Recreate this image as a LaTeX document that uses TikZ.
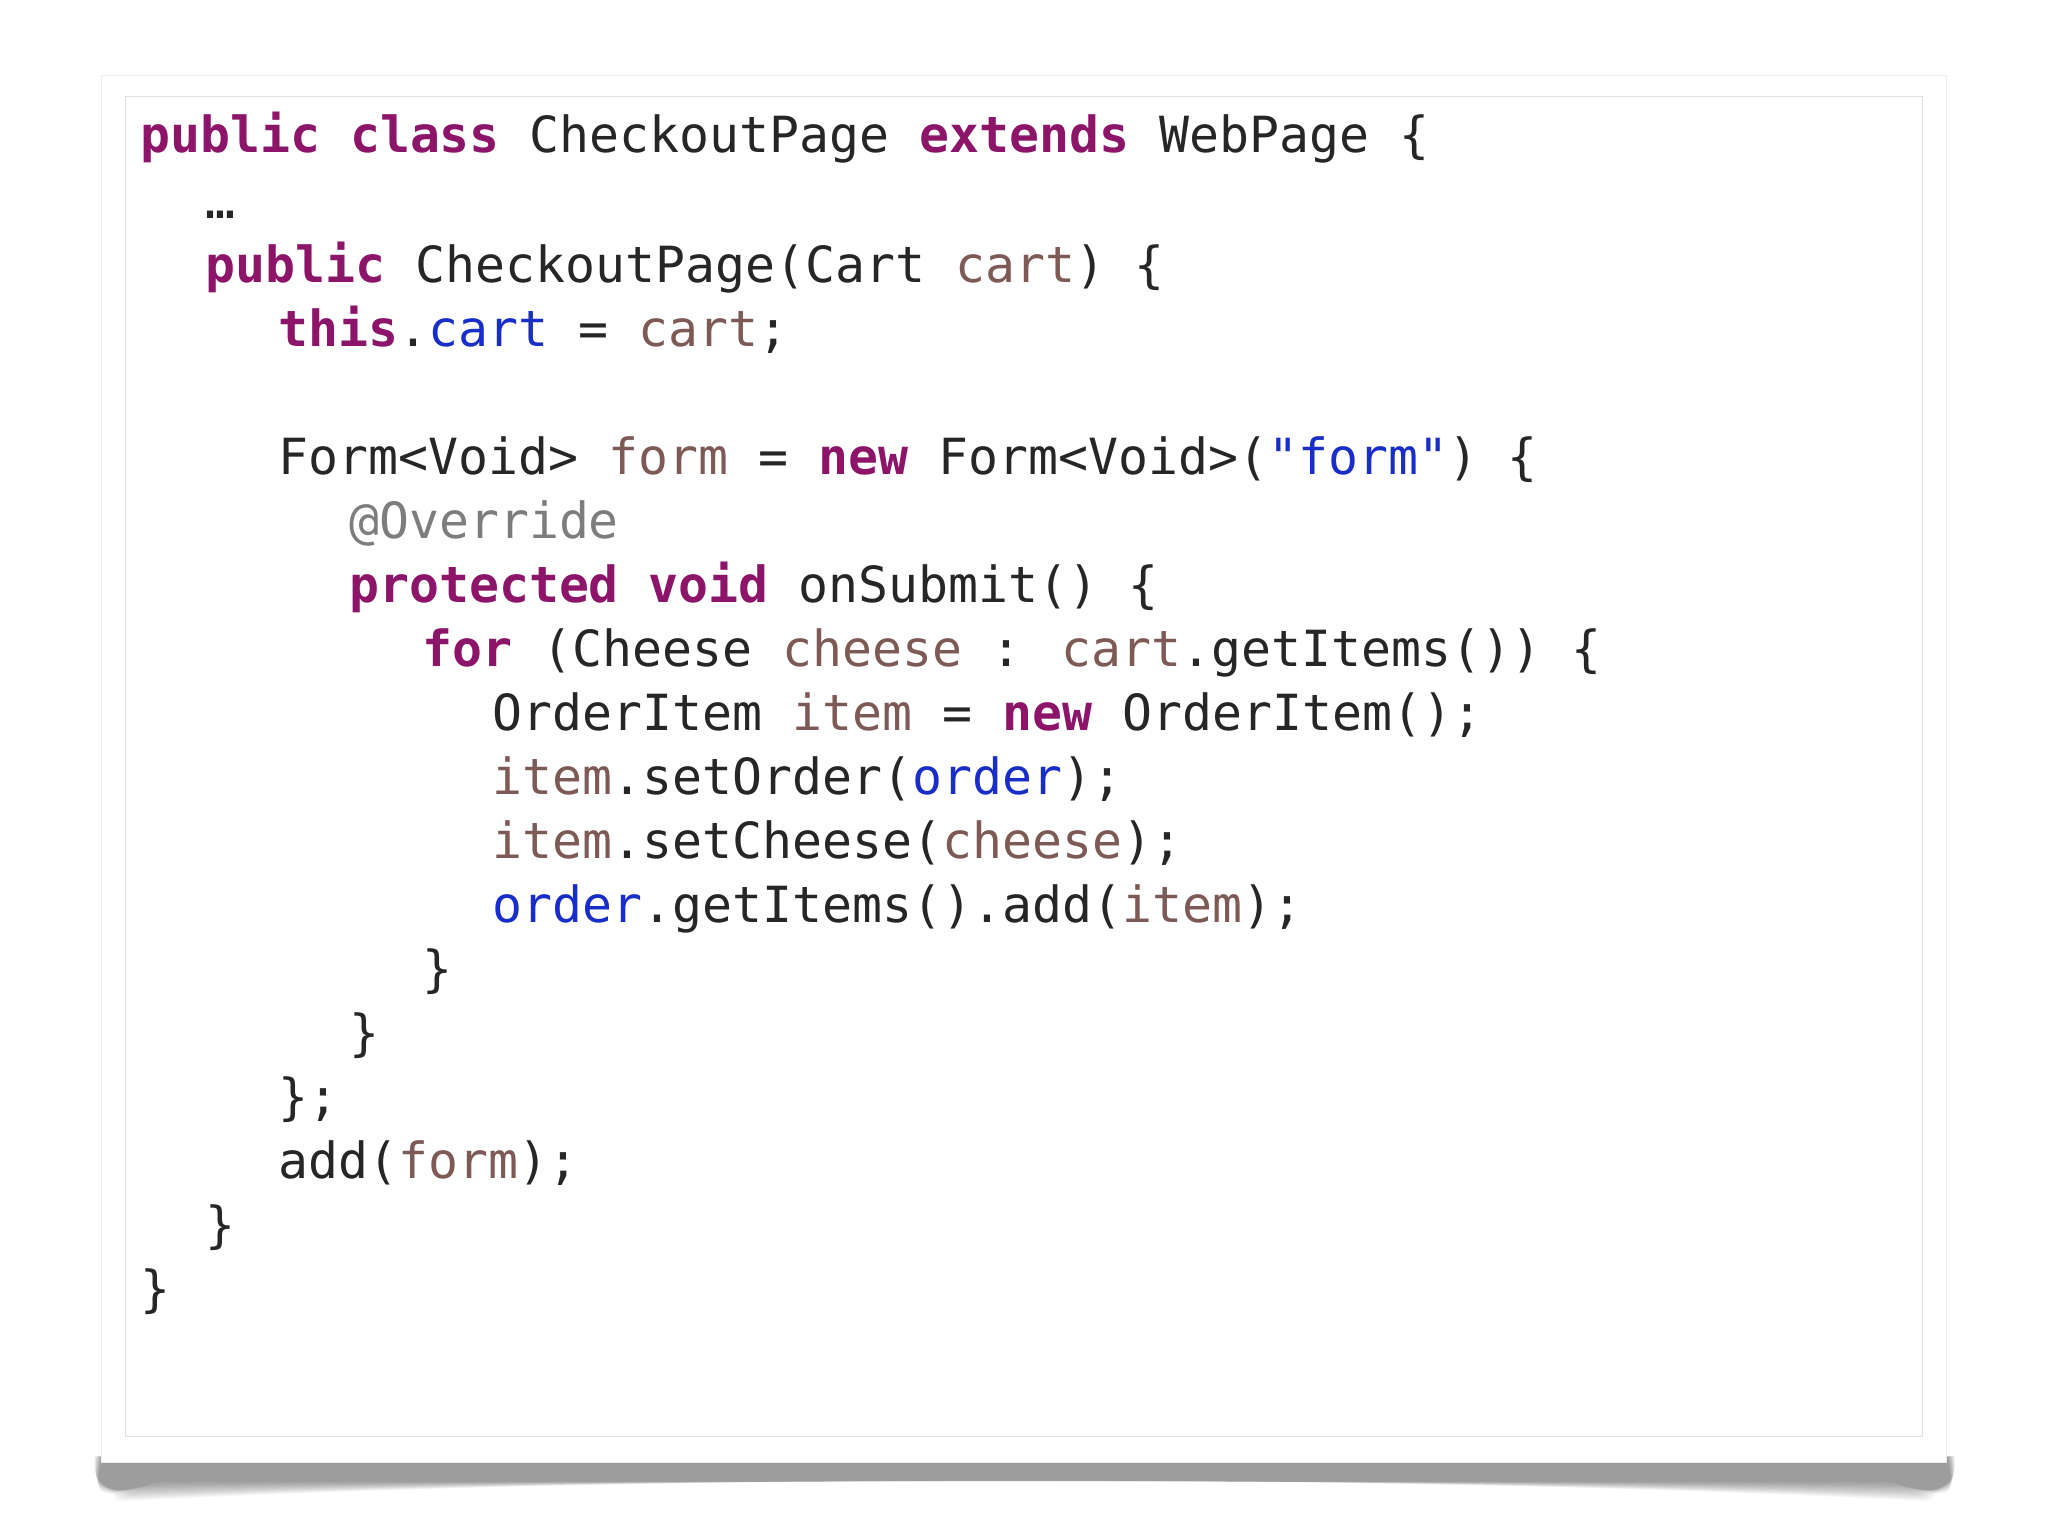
\documentclass[tikz,border=0pt]{standalone}
\usepackage{fontspec}
\newfontfamily\code{DejaVu Sans Mono}
\definecolor{kw}{RGB}{140,20,105}
\definecolor{vr}{RGB}{125,90,85}
\definecolor{fd}{RGB}{25,45,200}
\definecolor{an}{RGB}{125,125,125}
\newcommand{\K}[1]{\textcolor{kw}{\bfseries #1}}
\newcommand{\V}[1]{\textcolor{vr}{#1}}
\newcommand{\F}[1]{\textcolor{fd}{#1}}
\begin{document}
\begin{tikzpicture}[x=0.653pt,y=-0.653pt,
  ln/.style={anchor=base west,inner sep=0pt,font=\code\fontsize{24.9pt}{30pt}\selectfont,text=black!85}]
\useasboundingbox (0,0) rectangle (1568,1176);
\fill[white] (0,0) rectangle (1568,1176);
% shadow
\foreach \d in {1,3,...,31}{
  \fill[black,opacity=0.028] (72+\d*0.2,1115) .. controls (72,1130+\d*0.6) .. (90+\d,1150-\d*0.5) .. controls (500,1128+\d*0.2) and (1070,1128+\d*0.2) .. (1478-\d,1150-\d*0.5) .. controls (1497,1130+\d*0.6) .. (1497-\d*0.2,1115) -- cycle;}
\fill[white,draw=black!8] (78,58) rectangle (1490,1120);
\draw[black!12] (96,74) rectangle (1472,1100);
\node[ln] (l1) at (107,117) {\K{public} \K{class} CheckoutPage \K{extends} WebPage \{};
\node[ln] (l2) at (157,167) {…};
\node[ln] (l3) at (157,216) {\K{public} CheckoutPage(Cart \V{cart}) \{};
\node[ln] (l4) at (213,265) {\K{this}.\F{cart} = \V{cart};};
\node[ln] (l6) at (213,363) {Form<Void> \V{form} = \K{new} Form<Void>(\F{"form"}) \{};
\node[ln] (l7) at (267,412) {\textcolor{an}{@Override}};
\node[ln] (l8) at (267,461) {\K{protected} \K{void} onSubmit() \{};
\node[ln] (l9) at (323,510) {\K{for} (Cheese \V{cheese} : \V{cart}.getItems()) \{};
\node[ln] (l10) at (377,559) {OrderItem \V{item} = \K{new} OrderItem();};
\node[ln] (l11) at (377,608) {\V{item}.setOrder(\F{order});};
\node[ln] (l12) at (377,657) {\V{item}.setCheese(\V{cheese});};
\node[ln] (l13) at (377,706) {\F{order}.getItems().add(\V{item});};
\node[ln] (l14) at (323,755) {\}};
\node[ln] (l15) at (267,804) {\}};
\node[ln] (l16) at (213,853) {\};};
\node[ln] (l17) at (213,902) {add(\V{form});};
\node[ln] (l18) at (157,951) {\}};
\node[ln] (l19) at (107,1000) {\}};
\end{tikzpicture}
\end{document}
